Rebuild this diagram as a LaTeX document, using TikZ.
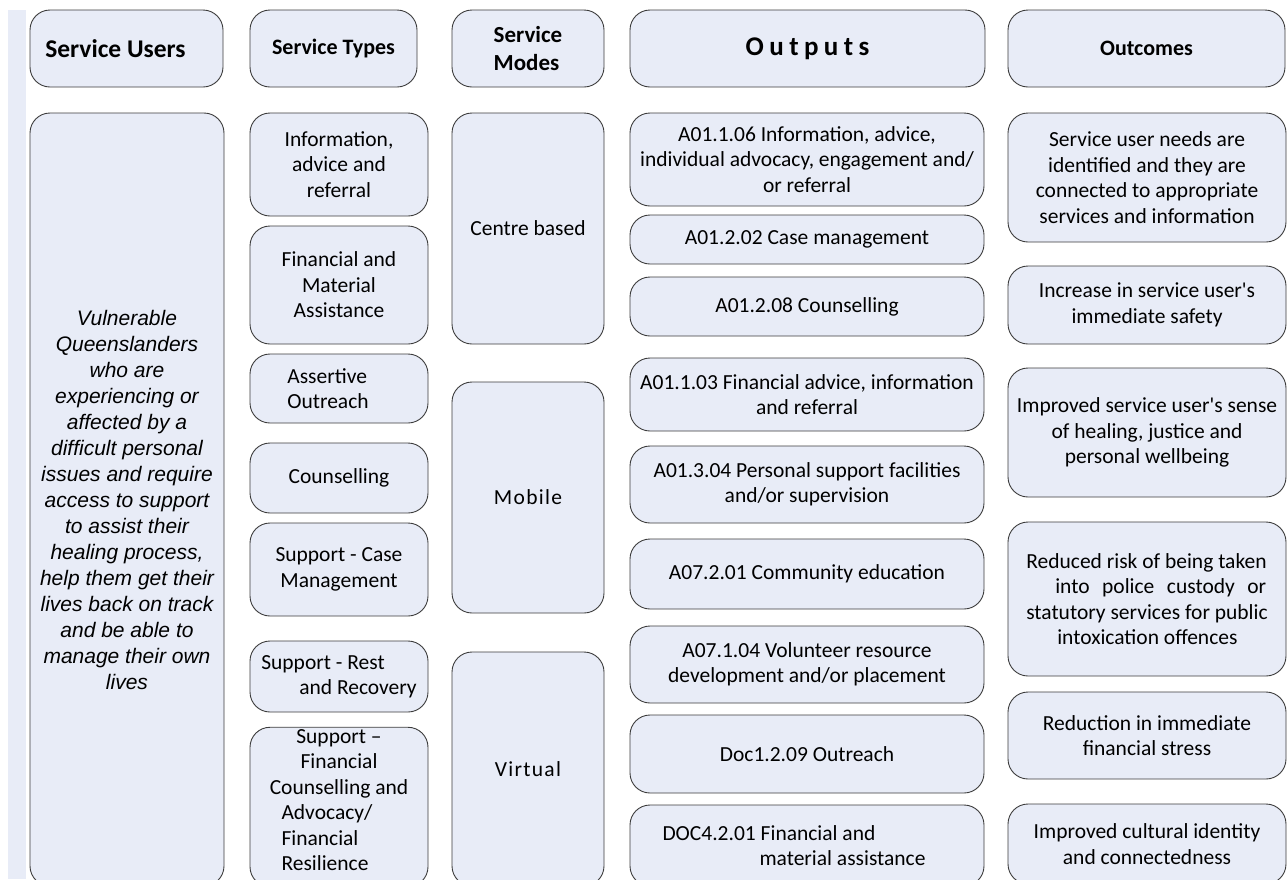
\documentclass[tikz,border=0pt]{standalone}
\usepackage{fontspec}
\setmainfont{Carlito}
\newfontfamily\arialfont{Liberation Sans}
\definecolor{boxfill}{HTML}{E8ECF7}
\definecolor{boxline}{HTML}{3C3C3C}
\newcommand{\bodysize}{\fontsize{21.5}{25.5}\selectfont}
\newcommand{\headsize}{\fontsize{23}{28}\selectfont\bfseries}

\begin{document}
\begin{tikzpicture}[x=1pt,y=-1pt,
    box/.style={draw=boxline,fill=boxfill,line width=0.9pt,
        rounded corners=20pt,align=center,inner sep=2pt,
        font=\bodysize},
    head/.style={box,minimum height=77,font=\headsize},
    typebox/.style={box,minimum width=178},
    modebox/.style={box,minimum width=152},
    outbox/.style={box,minimum width=354},
    outcomebox/.style={box,minimum width=278},
    ]
    \useasboundingbox (0,0) rectangle (1287,879);

    % Side strip
    \fill[boxfill] (8,10) rectangle (26,879);

    % Header row
    \node[head,minimum width=193,font=\fontsize{25.5}{30}\selectfont\bfseries] (hUsers) at (126.5,48.5) {Service Users\hspace*{22pt}};
    \node[head,minimum width=167,font=\fontsize{22}{26}\selectfont\bfseries] (hTypes) at (333.5,48.5) {Service Types};
    \node[head,minimum width=152,align=left] (hModes) at (528,48.5) {Service\\Modes};
    \node[head,minimum width=355,font=\fontsize{27}{30}\selectfont\bfseries] (hOutputs) at (807.5,48.5) {\addfontfeatures{LetterSpace=20}Outputs};
    \node[head,minimum width=277,font=\fontsize{22}{26}\selectfont\bfseries] (hOutcomes) at (1146.5,48.5) {Outcomes};

    % Service users
    \node[box,minimum width=194,minimum height=773,
          font=\arialfont\itshape\fontsize{21}{26}\selectfont] (users) at (127,499.5)
        {Vulnerable\\Queenslanders\\who are\\experiencing or\\affected by a\\difficult personal\\issues and require\\access to support\\to assist their\\healing process,\\help them get their\\lives back on track\\and be able to\\manage their own\\lives};

    % Service types
    \node[typebox,minimum height=103] (tInfo) at (339,164.5) {Information,\\advice and\\referral};
    \node[typebox,minimum height=118] (tFin) at (339,285) {Financial and\\Material\\Assistance};
    \node[typebox,minimum height=69,align=left] (tAssert) at (339,388.5) {Assertive\\Outreach\hspace*{22pt}};
    \node[typebox,minimum height=70] (tCouns) at (339,478) {Counselling};
    \node[typebox,minimum height=93] (tCase) at (339,569.5) {Support - Case\\Management};
    \node[typebox,minimum height=71,align=left] (tRest) at (339,676.5) {Support - Rest\\\hspace*{38pt}and Recovery};
    \node[typebox,minimum height=158] (tFinCouns) at (339,807)
        {Support \textendash\\Financial\\Counselling and\\\makebox[115pt][l]{Advocacy/}\\\makebox[115pt][l]{Financial}\\\makebox[115pt][l]{Resilience}\rule[-14pt]{0pt}{0pt}};

    % Service modes
    \node[modebox,minimum height=231] (mCentre) at (528,228.5) {Centre based};
    \node[modebox,minimum height=231] (mMobile) at (528,497.5) {\addfontfeatures{LetterSpace=6}Mobile};
    \node[modebox,minimum height=234] (mVirtual) at (528,769) {\addfontfeatures{LetterSpace=6}Virtual};

    % Outputs
    \node[outbox,minimum height=93] (o1) at (807,159.5) {A01.1.06 Information, advice,\\individual advocacy, engagement and/\\or referral};
    \node[outbox,minimum height=49] (o2) at (807,239.5) {A01.2.02 Case management};
    \node[outbox,minimum height=59] (o3) at (807,306.5) {A01.2.08 Counselling};
    \node[outbox,minimum height=73] (o4) at (807,394.5) {A01.1.03 Financial advice, information\\and referral};
    \node[outbox,minimum height=77] (o5) at (807,484.5) {A01.3.04 Personal support facilities\\and/or supervision};
    \node[outbox,minimum height=70] (o6) at (807,574) {A07.2.01 Community education};
    \node[outbox,minimum height=77] (o7) at (807,664.5) {A07.1.04 Volunteer resource\\development and/or placement};
    \node[outbox,minimum height=78] (o8) at (807,754) {Doc1.2.09 Outreach};
    \node[outbox,minimum height=81,align=left] (o9) at (807,845.5) {DOC4.2.01 Financial and\\\hspace*{97pt}material assistance\hspace*{26pt}};

    % Outcomes
    \node[outcomebox,minimum height=129] (c1) at (1147,177.5) {Service user needs are\\identified and they are\\connected to appropriate\\services and information};
    \node[outcomebox,minimum height=78] (c2) at (1147,305) {Increase in service user\textquotesingle s\\immediate safety};
    \node[outcomebox,minimum height=129] (c3) at (1147,432.5) {Improved service user\textquotesingle s sense\\of healing, justice and\\personal wellbeing};
    \node[outcomebox,minimum height=154,align=left] (c4) at (1147,599)
        {Reduced risk of being taken\\\hspace*{29pt}\makebox[211pt][s]{into police custody or}\\statutory services for public\\\hspace*{31pt}intoxication offences};
    \node[outcomebox,minimum height=87] (c5) at (1147,735.5) {Reduction in immediate\\financial stress};
    \node[outcomebox,minimum height=80] (c6) at (1147,844) {Improved cultural identity\\and connectedness};

\end{tikzpicture}
\end{document}
